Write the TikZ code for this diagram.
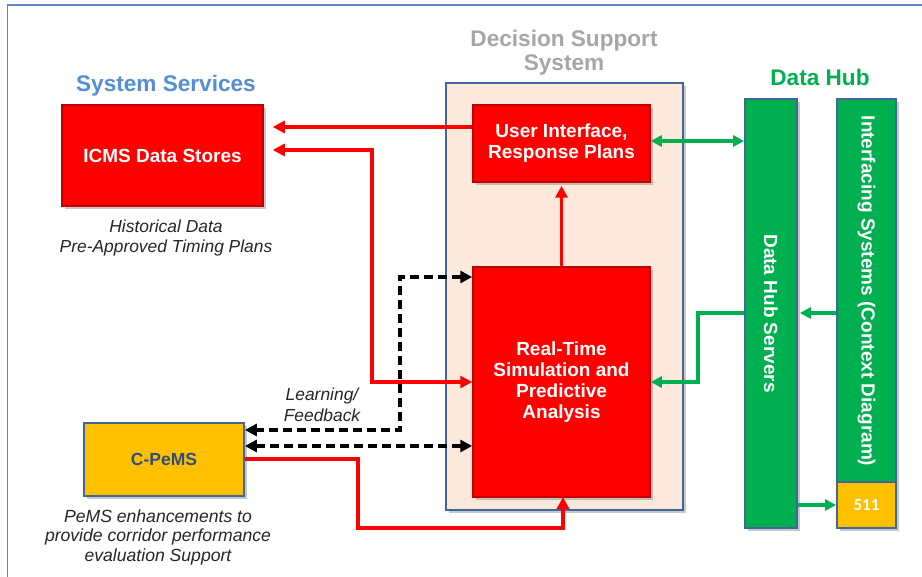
\documentclass[tikz,border=0pt]{standalone}
\usepackage{fontspec}
\setmainfont{Liberation Sans}
\newfontfamily\calib{Carlito}
\usetikzlibrary{arrows.meta,shadows}
\definecolor{rRed}{HTML}{FF0000}
\definecolor{rRedB}{HTML}{C00000}
\definecolor{gGreen}{HTML}{00B050}
\definecolor{yYel}{HTML}{FFC000}
\definecolor{bBord}{HTML}{41679A}
\definecolor{pPeach}{HTML}{FCE9DB}
\definecolor{tBlue}{HTML}{558ED5}
\definecolor{tGray}{HTML}{A6A6A6}
\definecolor{fBlue}{HTML}{5B8AC6}
\definecolor{cBlue}{HTML}{2F4E7E}
\tikzset{
  shad/.style={drop shadow={shadow xshift=3pt,shadow yshift=-3pt,opacity=0.3,fill=black!70}},
  redbox/.style={shad,rectangle,draw=rRedB,line width=1.5pt,fill=rRed,text=white,font=\fontsize{19}{21}\selectfont\bfseries,align=center,inner sep=0pt},
  greenbar/.style={shad,rectangle,draw=bBord,line width=1.8pt,fill=gGreen,text=white,font=\fontsize{19}{21}\selectfont\bfseries,inner sep=0pt},
  title/.style={font=\fontsize{22.6}{24}\selectfont\bfseries,align=center},
  note/.style={font=\fontsize{17.4}{20.5}\selectfont\itshape,align=center,text=black!85},
  rtip/.style={Triangle[length=12pt,width=12pt]},
  gtip/.style={Triangle[length=11pt,width=11pt]},
  redarrow/.style={draw=rRed,line width=3.4pt,-{Triangle[length=12pt,width=12pt]}},
  redline/.style={draw=rRed,line width=3.4pt},
  greenarrow/.style={draw=gGreen,line width=3.2pt,-{Triangle[length=11pt,width=11pt]}},
  blackdash/.style={draw=black,line width=3.4pt,dash pattern=on 9pt off 5pt,{Triangle[length=12pt,width=12pt]}-{Triangle[length=12pt,width=12pt]}},
}
\begin{document}
\begin{tikzpicture}[x=1pt,y=-1pt]
\useasboundingbox (0,0) rectangle (922,577);
\fill[white] (0,0) rectangle (922,577);
% outer frame
\draw[fBlue,line width=1.8pt] (7.5,590) -- (7.5,5) -- (930,5);

% titles
\node[title,text=tBlue] (tss) at (166,85.5) {System Services};
\node[title,text=tGray] (tdss) at (564,52.5) {Decision Support\\System};
\node[title,text=gGreen] (tdh) at (820,77.5) {Data Hub};

% DSS background
\node[shad,rectangle,draw=bBord,line width=1.8pt,fill=pPeach,minimum width=237pt,minimum height=427pt,inner sep=0pt] (dss) at (564.5,296.5) {};

% boxes
\node[redbox,minimum width=201pt,minimum height=101pt] (icms) at (162.5,155.5) {ICMS Data Stores};
\node[redbox,minimum width=177pt,minimum height=77pt] (ui) at (561.5,143.5) {User Interface,\\Response Plans};
\node[redbox,minimum width=177pt,minimum height=230pt] (rt) at (561.5,382) {Real-Time\\Simulation and\\Predictive\\Analysis};
\node[shad,rectangle,draw=bBord,line width=1.8pt,fill=yYel,text=cBlue,font=\fontsize{17.5}{20}\selectfont\bfseries,minimum width=160pt,minimum height=73pt,inner sep=0pt] (cpems) at (164,459.5) {C-PeMS};
\node[greenbar,minimum width=52pt,minimum height=429pt] (dh) at (771,313.5) {};
\node[rotate=-90,text=white,font=\fontsize{19}{21}\selectfont\bfseries] (dhl) at (dh.center) {Data Hub Servers};
\node[greenbar,minimum width=59pt,minimum height=429pt] (ifs) at (866.5,313.5) {};
\node[rectangle,draw=bBord,line width=1.8pt,fill=yYel,text=white,font=\calib\fontsize{17}{20}\selectfont\bfseries,minimum width=59pt,minimum height=46pt,inner sep=0pt] (b511) at (866.5,505) {511};
\node[rotate=-90,text=white,font=\fontsize{19}{21}\selectfont\bfseries] (ifl) at (866.5,291) {Interfacing Systems (Context Diagram)};

% notes
\node[note] (nhist) at (166,238) {Historical Data\\Pre-Approved Timing Plans};
\node[note] (nlearn) at (322,405) {Learning/\\Feedback};
\node[note,font=\fontsize{17.6}{19.5}\selectfont\itshape] (npems) at (158,537) {PeMS enhancements to\\provide corridor performance\\evaluation Support};

% red connectors
\draw[redarrow,shorten >=9pt] (ui.west |- 0,127) -- (icms.east |- 0,127);
\draw[redline,{Triangle[length=12pt,width=12pt]}-{Triangle[length=12pt,width=12pt]},shorten <=9pt] (icms.east |- 0,150) -- (372,150) -- (372,382) -- (rt.west |- 0,382);
\draw[redarrow,shorten >=3pt] (rt.north) -- (ui.south);
\draw[redarrow] (cpems.east |- 0,459) -- (358,459) -- (358,528) -- (563,528) -- (563,497);

% black dashed
\draw[blackdash] (rt.west |- 0,277) -- (400,277) -- (400,430) -- (cpems.east |- 0,430);
\draw[blackdash] (rt.west |- 0,446) -- (cpems.east |- 0,446);

% green connectors
\draw[greenarrow,{Triangle[length=11pt,width=11pt]}-{Triangle[length=11pt,width=11pt]}] (ui.east |- 0,141) -- (dh.west |- 0,141);
\draw[greenarrow] (dh.west |- 0,313) -- (698,313) -- (698,382) -- (rt.east |- 0,382);
\draw[greenarrow,shorten >=2pt] (ifs.west |- 0,313) -- (dh.east |- 0,313);
\draw[greenarrow] (dh.east |- 0,505) -- (b511.west);
\end{tikzpicture}
\end{document}
